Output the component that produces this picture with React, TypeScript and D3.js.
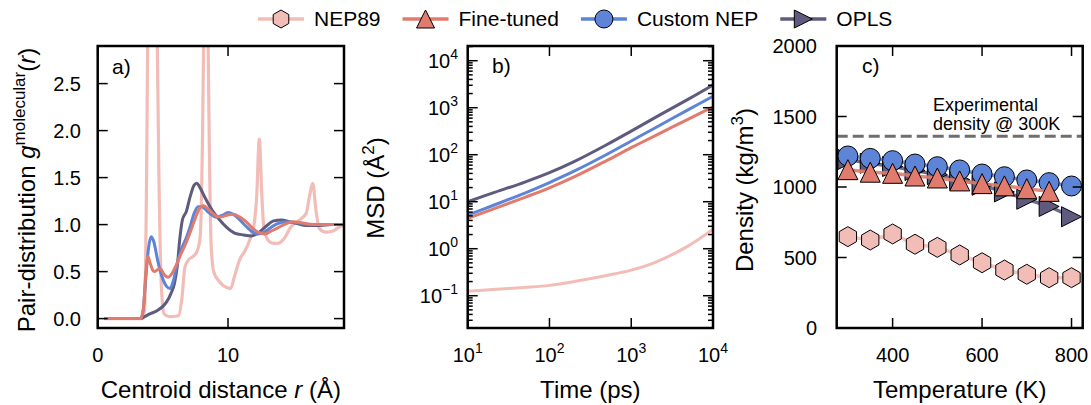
import React from 'react';
import * as d3 from 'd3';

const FONT = '"Liberation Sans", Arial, Helvetica, sans-serif';
const W = 1091;
const H = 405;

// ---------- legend ----------
const seriesNames = ['NEP89', 'Fine-tuned', 'Custom NEP', 'OPLS'];
const seriesColors = ['#f2bdb7', '#e07b6e', '#5d84d6', '#5e5b7e'];
const seriesMarkers = ['hex', 'tri', 'circle', 'tri-right'];

// ---------- panel a: RDF (r in Å, g) ----------
const rdfNEP89: [number, number][] = [
  [0.5, 0], [3.45, 0], [3.6, 0.1], [3.75, 1.5], [3.85, 3.2], [4.2, 6.0], [4.55, 3.2], [4.7, 1.5],
  [4.9, 0.3], [5.1, 0.05], [5.5, 0.02], [6.2, 0.03], [6.45, 0.2], [6.7, 0.55], [7.0, 0.63],
  [7.3, 0.66], [7.6, 0.71], [7.85, 0.85], [8.05, 2.0], [8.15, 3.2], [8.3, 5.5], [8.45, 3.2],
  [8.55, 2.0], [8.7, 0.8], [8.9, 0.5], [9.3, 0.4], [9.9, 0.33], [10.2, 0.32], [10.5, 0.45],
  [10.9, 0.63], [11.3, 0.72], [11.7, 0.85], [12.0, 1.0], [12.2, 1.3], [12.4, 1.91], [12.6, 1.3],
  [12.75, 0.97], [13.1, 0.83], [13.5, 0.8], [13.8, 0.8], [14.3, 0.85], [14.8, 0.97], [15.5, 1.05],
  [16.0, 1.12], [16.25, 1.3], [16.5, 1.44], [16.75, 1.15], [17.0, 0.96], [17.5, 0.92],
  [18.0, 0.93], [18.5, 0.97], [18.9, 1.0],
];
const rdfFineTuned: [number, number][] = [
  [0.5, 0], [3.3, 0], [3.5, 0.1], [3.7, 0.5], [3.85, 0.66], [4.0, 0.6], [4.2, 0.52], [4.35, 0.5],
  [4.6, 0.52], [4.8, 0.53], [5.1, 0.47], [5.4, 0.44], [5.7, 0.48], [6.0, 0.56], [6.3, 0.66],
  [6.7, 0.78], [7.1, 0.92], [7.5, 1.07], [7.8, 1.17], [8.1, 1.2], [8.6, 1.15], [9.0, 1.1],
  [9.4, 1.08], [9.9, 1.1], [10.4, 1.11], [10.9, 1.08], [11.4, 1.03], [11.9, 0.96], [12.3, 0.92],
  [12.85, 0.9], [13.3, 0.93], [13.75, 0.96], [14.3, 1.0], [15.0, 1.03], [16.0, 1.01], [17.0, 1.0],
  [18.9, 1.0],
];
const rdfCustomNEP: [number, number][] = [
  [0.5, 0], [3.3, 0], [3.5, 0.1], [3.7, 0.45], [3.9, 0.75], [4.1, 0.87], [4.3, 0.82], [4.6, 0.62],
  [5.0, 0.42], [5.3, 0.34], [5.55, 0.32], [5.8, 0.4], [6.1, 0.58], [6.4, 0.73], [6.8, 0.86],
  [7.1, 0.98], [7.4, 1.12], [7.7, 1.19], [8.0, 1.19], [8.5, 1.13], [9.1, 1.08], [9.6, 1.1],
  [10.0, 1.13], [10.4, 1.11], [10.9, 1.05], [11.4, 0.98], [11.9, 0.92], [12.3, 0.9], [12.8, 0.92],
  [13.3, 0.97], [13.8, 1.01], [14.5, 1.03], [15.3, 1.02], [16.3, 1.0], [17.5, 1.0], [18.9, 1.0],
];
const rdfOPLS: [number, number][] = [
  [0.5, 0], [3.3, 0], [3.6, 0.02], [4.0, 0.05], [4.5, 0.08], [5.0, 0.13], [5.3, 0.18], [5.6, 0.26],
  [5.9, 0.38], [6.1, 0.55], [6.3, 0.85], [6.5, 1.05], [6.8, 1.14], [7.1, 1.3], [7.4, 1.42],
  [7.6, 1.44], [7.9, 1.38], [8.3, 1.27], [8.8, 1.15], [9.3, 1.06], [9.9, 0.97], [10.5, 0.91],
  [11.2, 0.89], [11.8, 0.88], [12.3, 0.91], [12.9, 0.98], [13.5, 1.04], [14.1, 1.05], [14.7, 1.03],
  [15.3, 1.01], [16.0, 0.99], [17.0, 0.99], [18.0, 1.0], [18.9, 1.0],
];
const rdfXTicks = [0, 10];
const rdfYTicks = [0, 0.5, 1.0, 1.5, 2.0, 2.5];

// ---------- panel b: MSD ----------
const msdTime = [10, 20, 50, 100, 200, 500, 1000, 2000, 5000, 10000];
const msdNEP89 = [0.125, 0.135, 0.15, 0.166, 0.2, 0.27, 0.35, 0.52, 1.15, 2.6];
const msdFineTuned = [4.4, 6.9, 12.4, 19.7, 33.7, 75, 141, 259, 573, 1048];
const msdCustomNEP = [5.2, 8.2, 15.3, 25.6, 44.6, 101, 196, 380, 910, 1750];
const msdOPLS = [10, 15.2, 26.2, 41.5, 71.2, 163, 318, 630, 1522, 3044];
const msdXTicks = [1, 2, 3, 4];
const msdYTicks = [-1, 0, 1, 2, 3, 4];

// ---------- panel c: density ----------
const temps = [300, 350, 400, 450, 500, 550, 600, 650, 700, 750, 800];
const densNEP89 = [648, 624, 667, 594, 572, 518, 463, 411, 381, 357, 357];
const densFineTuned = [1123, 1105, 1097, 1078, 1064, 1043, 1024, 1008, 988, 969];
const densCustomNEP = [1220, 1203, 1187, 1163, 1144, 1121, 1092, 1073, 1050, 1031, 1007];
const densOPLS = [1195, 1168, 1145, 1117, 1088, 1052, 1012, 965, 913, 862, 789];
const expDensity = 1360;
const densXTicks = [400, 600, 800];
const densYTicks = [0, 500, 1000, 1500, 2000];

// ---------- layout ----------
const TOP = 46;
const BOTTOM = 328;
const AX = [97.7, 344];
const BX = [467.7, 713];
const CX = [836.7, 1082.7];
const MAJ = 10;
const MIN = 5;

function hexPath(cx: number, cy: number, r: number) {
  const pts = d3.range(6).map((i) => {
    const a = ((-90 + 60 * i) * Math.PI) / 180;
    return [cx + r * Math.cos(a), cy + r * Math.sin(a)];
  });
  return 'M' + pts.map((p) => p.join(',')).join('L') + 'Z';
}
function triPath(cx: number, cy: number, s: number) {
  const h = s / 2;
  return `M${cx},${cy - h}L${cx - h},${cy + h}L${cx + h},${cy + h}Z`;
}
function triRightPath(cx: number, cy: number, s: number) {
  const h = s / 2;
  return `M${cx + h},${cy}L${cx - h},${cy - h}L${cx - h},${cy + h}Z`;
}
function Marker({ kind, x, y, color, size }: { kind: string; x: number; y: number; color: string; size: number }) {
  const common = { fill: color, stroke: '#000', strokeWidth: 1 };
  if (kind === 'circle') return <circle cx={x} cy={y} r={size / 2} {...common} />;
  if (kind === 'hex') return <path d={hexPath(x, y, size / 2)} {...common} />;
  if (kind === 'tri') return <path d={triPath(x, y, size)} {...common} />;
  return <path d={triRightPath(x, y, size)} {...common} />;
}

function Frame({ x0, x1 }: { x0: number; x1: number }) {
  return <rect x={x0} y={TOP} width={x1 - x0} height={BOTTOM - TOP} fill="none" stroke="#000" strokeWidth={2.5} />;
}

function XTicks({ xs, len }: { xs: number[]; len: number }) {
  return (
    <g stroke="#000" strokeWidth={1.5}>
      {xs.map((x, i) => (
        <g key={i}>
          <line x1={x} x2={x} y1={BOTTOM} y2={BOTTOM - len} />
          <line x1={x} x2={x} y1={TOP} y2={TOP + len} />
        </g>
      ))}
    </g>
  );
}
function YTicks({ ys, len, x0, x1 }: { ys: number[]; len: number; x0: number; x1: number }) {
  return (
    <g stroke="#000" strokeWidth={1.5}>
      {ys.map((y, i) => (
        <g key={i}>
          <line x1={x0} x2={x0 + len} y1={y} y2={y} />
          <line x1={x1} x2={x1 - len} y1={y} y2={y} />
        </g>
      ))}
    </g>
  );
}

export default function App() {
  // scales
  const xa = d3.scaleLinear().domain([0, 18.9]).range(AX);
  const ya = d3.scaleLinear().domain([-0.1, 2.9]).range([BOTTOM, TOP]);
  const xb = d3.scaleLog().domain([10, 1e4]).range(BX);
  const yb = d3.scaleLog().domain([Math.pow(10, -1.687), Math.pow(10, 4.313)]).range([BOTTOM, TOP]);
  const xc = d3.scaleLinear().domain([275, 825]).range(CX);
  const yc = d3.scaleLinear().domain([0, 2000]).range([BOTTOM, TOP]);

  const lineA = d3
    .line<[number, number]>()
    .x((d) => xa(d[0]))
    .y((d) => ya(d[1]))
    .curve(d3.curveMonotoneX);
  const lineB = d3
    .line<number>()
    .x((_, i) => xb(msdTime[i]))
    .y((d) => yb(d))
    .curve(d3.curveCatmullRom.alpha(0.5));
  const lineC = (vals: number[]) =>
    d3
      .line<number>()
      .x((_, i) => xc(temps[i]))
      .y((d) => yc(d))(vals) || '';

  const rdfSeries = [rdfNEP89, rdfOPLS, rdfCustomNEP, rdfFineTuned];
  const rdfColors = [seriesColors[0], seriesColors[3], seriesColors[2], seriesColors[1]];
  const rdfWidths = [3.2, 3, 3, 3];

  const msdSeries = [msdNEP89, msdFineTuned, msdCustomNEP, msdOPLS];

  // minor log ticks for panel b y
  const yDom = yb.domain();
  const minorB: number[] = [];
  for (let e = -2; e <= 4; e++) {
    for (let k = 2; k <= 9; k++) {
      const v = k * Math.pow(10, e);
      if (v > yDom[0] && v < yDom[1]) minorB.push(v);
    }
  }

  // legend layout
  const legendFont = 21;
  let widths = seriesNames.map((s) => s.length * 11);
  try {
    const ctx = document.createElement('canvas').getContext('2d');
    if (ctx) {
      ctx.font = `${legendFont}px "Liberation Sans", Arial, sans-serif`;
      widths = seriesNames.map((s) => ctx.measureText(s).width);
    }
  } catch (e) {}
  const handle = 46;
  const gapText = 10;
  const gapItem = 22;
  let lx = 258;
  const legendY = 19;
  const legendItems = seriesNames.map((name, i) => {
    const x0 = lx;
    lx += handle + gapText + widths[i] + gapItem;
    return { name, x0, color: seriesColors[i], marker: seriesMarkers[i] };
  });

  const tickFont = 20;
  const labelFont = 24;
  const supFont = 14;

  // panel c order: OPLS, NEP89, Custom NEP, Fine-tuned
  const densSeries = [
    { vals: densOPLS, color: seriesColors[3], marker: 'tri-right' },
    { vals: densNEP89, color: seriesColors[0], marker: 'hex' },
    { vals: densCustomNEP, color: seriesColors[2], marker: 'circle' },
    { vals: densFineTuned, color: seriesColors[1], marker: 'tri' },
  ];

  return (
    <svg
      width={W}
      height={H}
      viewBox={`0 0 ${W} ${H}`}
      style={{ position: 'fixed', left: 0, top: 0, background: '#fff' }}
      fontFamily={FONT}
    >
      <defs>
        <clipPath id="clipA">
          <rect x={AX[0]} y={TOP} width={AX[1] - AX[0]} height={BOTTOM - TOP} />
        </clipPath>
        <clipPath id="clipB">
          <rect x={BX[0]} y={TOP} width={BX[1] - BX[0]} height={BOTTOM - TOP} />
        </clipPath>
        <clipPath id="clipC">
          <rect x={CX[0]} y={TOP} width={CX[1] - CX[0]} height={BOTTOM - TOP} />
        </clipPath>
      </defs>
      <rect x={0} y={0} width={W} height={H} fill="#fff" />

      {/* legend */}
      <g>
        {legendItems.map((it, i) => (
          <g key={i}>
            <line x1={it.x0} x2={it.x0 + handle} y1={legendY} y2={legendY} stroke={it.color} strokeWidth={3.5} />
            <Marker kind={it.marker} x={it.x0 + handle / 2} y={legendY} color={it.color} size={18} />
            <text x={it.x0 + handle + gapText} y={legendY} dy="0.35em" fontSize={legendFont} fill="#000">
              {it.name}
            </text>
          </g>
        ))}
      </g>

      {/* ---------- panel a ---------- */}
      <g clipPath="url(#clipA)">
        {rdfSeries.map((s, i) => (
          <path key={i} d={lineA(s) || ''} fill="none" stroke={rdfColors[i]} strokeWidth={rdfWidths[i]} strokeLinejoin="round" />
        ))}
      </g>
      <XTicks xs={rdfXTicks.map((v) => xa(v))} len={MAJ} />
      <YTicks ys={rdfYTicks.map((v) => ya(v))} len={MAJ} x0={AX[0]} x1={AX[1]} />
      <Frame x0={AX[0]} x1={AX[1]} />
      {rdfXTicks.map((v) => (
        <text key={v} x={xa(v)} y={362} textAnchor="middle" fontSize={tickFont}>
          {v}
        </text>
      ))}
      {rdfYTicks.map((v) => (
        <text key={v} x={81} y={ya(v)} dy="0.35em" textAnchor="end" fontSize={tickFont}>
          {v.toFixed(1)}
        </text>
      ))}
      <text x={112} y={74} fontSize={21}>a)</text>
      <text x={(AX[0] + AX[1]) / 2} y={398} textAnchor="middle" fontSize={labelFont}>
        Centroid distance <tspan fontStyle="italic">r</tspan> (Å)
      </text>
      <text transform={`translate(35,190) rotate(-90)`} textAnchor="middle" fontSize={labelFont}>
        Pair-distribution <tspan fontStyle="italic">g</tspan>
        <tspan fontSize={17} dy={-10}>molecular</tspan>
        <tspan dy={10}>(</tspan>
        <tspan fontStyle="italic">r</tspan>)
      </text>

      {/* ---------- panel b ---------- */}
      <g clipPath="url(#clipB)">
        {msdSeries.map((s, i) => (
          <path key={i} d={lineB(s) || ''} fill="none" stroke={seriesColors[i]} strokeWidth={3} strokeLinejoin="round" />
        ))}
      </g>
      <XTicks xs={msdXTicks.map((e) => xb(Math.pow(10, e)))} len={MAJ} />
      <YTicks ys={msdYTicks.map((e) => yb(Math.pow(10, e)))} len={MAJ} x0={BX[0]} x1={BX[1]} />
      <YTicks ys={minorB.map((v) => yb(v))} len={MIN} x0={BX[0]} x1={BX[1]} />
      <Frame x0={BX[0]} x1={BX[1]} />
      {msdXTicks.map((e) => (
        <text key={e} x={xb(Math.pow(10, e))} y={362} textAnchor="middle" fontSize={tickFont}>
          10<tspan fontSize={supFont} dy={-9}>{e}</tspan>
        </text>
      ))}
      {msdYTicks.map((e) => (
        <text key={e} x={458} y={yb(Math.pow(10, e))} dy="0.35em" textAnchor="end" fontSize={tickFont}>
          10<tspan fontSize={supFont} dy={-9}>{e < 0 ? '\u2212' + Math.abs(e) : e}</tspan>
        </text>
      ))}
      <text x={492} y={73} fontSize={21}>b)</text>
      <text x={(BX[0] + BX[1]) / 2} y={398} textAnchor="middle" fontSize={labelFont}>
        Time (ps)
      </text>
      <text transform={`translate(384,188) rotate(-90)`} textAnchor="middle" fontSize={labelFont}>
        MSD (Å<tspan fontSize={17} dy={-10}>2</tspan>
        <tspan dy={10}>)</tspan>
      </text>

      {/* ---------- panel c ---------- */}
      <g clipPath="url(#clipC)">
        <line
          x1={CX[0]}
          x2={CX[1]}
          y1={yc(expDensity)}
          y2={yc(expDensity)}
          stroke="#6e6e6e"
          strokeWidth={3}
          strokeDasharray="11,5"
        />
        {densSeries.map((s, i) => (
          <g key={i}>
            <path d={lineC(s.vals)} fill="none" stroke={s.color} strokeWidth={3.5} strokeOpacity={0.9} />
            {s.vals.map((v, j) => (
              <Marker key={j} kind={s.marker} x={xc(temps[j])} y={yc(v)} color={s.color} size={20} />
            ))}
          </g>
        ))}
      </g>
      <XTicks xs={densXTicks.map((v) => xc(v))} len={MAJ} />
      <YTicks ys={densYTicks.map((v) => yc(v))} len={MAJ} x0={CX[0]} x1={CX[1]} />
      <Frame x0={CX[0]} x1={CX[1]} />
      {densXTicks.map((v) => (
        <text key={v} x={xc(v)} y={362} textAnchor="middle" fontSize={tickFont}>
          {v}
        </text>
      ))}
      {densYTicks.map((v) => (
        <text key={v} x={817} y={yc(v)} dy="0.35em" textAnchor="end" fontSize={tickFont}>
          {v}
        </text>
      ))}
      <text x={862} y={73} fontSize={21}>c)</text>
      <text x={933} y={111} fontSize={18}>Experimental</text>
      <text x={933} y={130} fontSize={18}>density @ 300K</text>
      <text x={(CX[0] + CX[1]) / 2} y={398} textAnchor="middle" fontSize={labelFont}>
        Temperature (K)
      </text>
      <text transform={`translate(753,190) rotate(-90)`} textAnchor="middle" fontSize={labelFont}>
        Density (kg/m<tspan fontSize={17} dy={-10}>3</tspan>
        <tspan dy={10}>)</tspan>
      </text>
    </svg>
  );
}
